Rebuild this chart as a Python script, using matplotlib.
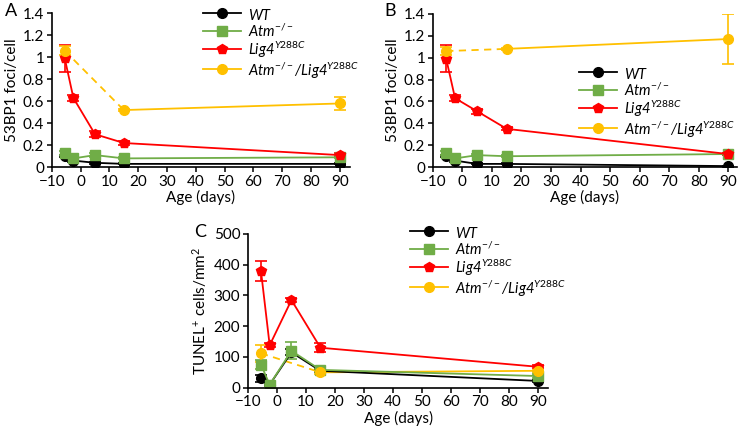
import matplotlib
matplotlib.use("Agg")
import matplotlib.pyplot as plt
from matplotlib.lines import Line2D
import numpy as np

plt.rcParams['font.family'] = ['Lato', 'DejaVu Sans']
plt.rcParams['mathtext.fontset'] = 'custom'
plt.rcParams['mathtext.rm'] = 'Lato'
plt.rcParams['mathtext.it'] = 'Lato:italic'
plt.rcParams['font.size'] = 11

age = [-5.5, -2.5, 5, 15, 90]
age_dko = [-5.5, 15, 90]

labels = ['WT', r'Atm$^{-/-}$', r'Lig4$^{Y288C}$', r'Atm$^{-/-}$/Lig4$^{Y288C}$']
colors = ['black', '#70ad47', '#ff0000', '#ffc000']
markers = ['o', 's', 'p', 'o']

# panel A: 53BP1 foci/cell
a_wt = [0.10, 0.06, 0.04, 0.03, 0.03]
a_wt_err = [0.01, 0.01, 0.01, 0.005, 0.005]
a_atm = [0.13, 0.08, 0.11, 0.08, 0.09]
a_atm_err = [0.02, 0.015, 0.02, 0.01, 0.01]
a_lig = [0.99, 0.63, 0.30, 0.22, 0.11]
a_lig_err = [0.125, 0.025, 0.025, 0.02, 0.015]
a_dko = [1.06, 0.52, 0.58]
a_dko_err = [0.04, 0.01, 0.06]

# panel B: 53BP1 foci/cell
b_wt = [0.10, 0.06, 0.03, 0.03, 0.01]
b_wt_err = [0.01, 0.01, 0.005, 0.005, 0.005]
b_atm = [0.13, 0.08, 0.11, 0.10, 0.12]
b_atm_err = [0.02, 0.015, 0.01, 0.01, 0.01]
b_lig = [0.99, 0.63, 0.51, 0.35, 0.12]
b_lig_err = [0.125, 0.025, 0.025, 0.015, 0.01]
b_dko = [1.06, 1.08, 1.17]
b_dko_err = [0.04, 0.01, 0.23]

# panel C: TUNEL+ cells/mm2
c_wt = [30, 10, 115, 55, 22]
c_wt_err = [10, 3, 10, 5, 4]
c_atm = [75, 10, 120, 58, 38]
c_atm_err = [15, 3, 28, 6, 5]
c_lig = [380, 138, 285, 130, 68]
c_lig_err = [32, 6, 6, 15, 5]
c_dko = [112, 50, 55]
c_dko_err = [28, 5, 4]

fig = plt.figure(figsize=(7.4, 4.32), dpi=100)
axA = fig.add_axes([0.070, 0.613, 0.403, 0.356])
axB = fig.add_axes([0.585, 0.613, 0.411, 0.355])
axC = fig.add_axes([0.335, 0.1025, 0.406, 0.356])


def draw(ax, wt, wte, atm, atme, lig, lige, dko, dkoe):
    handles = []
    for vals, errs, c, m in [(wt, wte, colors[0], markers[0]),
                             (atm, atme, colors[1], markers[1]),
                             (lig, lige, colors[2], markers[2])]:
        h = ax.errorbar(age, vals, yerr=errs, color=c, marker=m, ms=7,
                        lw=1.3, capsize=4, elinewidth=1.2, capthick=1.2)
        handles.append(h[0])
    ax.plot(age_dko[:2], dko[:2], color=colors[3], lw=1.3, ls=(0, (4, 3)))
    ax.plot(age_dko[1:], dko[1:], color=colors[3], lw=1.3)
    ax.errorbar(age_dko, dko, yerr=dkoe, color=colors[3], marker=markers[3],
                ms=7, ls='none', capsize=4, elinewidth=1.2, capthick=1.2)
    handles.append(Line2D([], [], color=colors[3], marker=markers[3], ms=7, lw=1.3))
    ax.spines['top'].set_visible(False)
    ax.spines['right'].set_visible(False)
    ax.spines['left'].set_linewidth(1.2)
    ax.spines['bottom'].set_linewidth(1.2)
    ax.set_xticks(np.arange(-10, 91, 10))
    ax.set_xlabel('Age (days)', labelpad=1)
    ax.tick_params(length=3.5, width=1.1, pad=2)
    return handles


legend_kw = dict(frameon=False, prop={'size': 10.5, 'style': 'italic'}, handlelength=2.6,
                 handleheight=1.25, labelspacing=0.0, handletextpad=0.5, borderpad=0,
                 borderaxespad=0, loc='upper left', bbox_transform=fig.transFigure)

hA = draw(axA, a_wt, a_wt_err, a_atm, a_atm_err, a_lig, a_lig_err, a_dko, a_dko_err)
axA.set_xlim(-10, 93.5)
axA.set_ylim(0, 1.4)
axA.set_yticks([0, 0.2, 0.4, 0.6, 0.8, 1, 1.2, 1.4], ['0', '0.2', '0.4', '0.6', '0.8', '1', '1.2', '1.4'])
axA.set_ylabel('53BP1 foci/cell', labelpad=3)
axA.legend(hA, labels, bbox_to_anchor=(203 / 740, 1 - 7 / 432), **legend_kw)

hB = draw(axB, b_wt, b_wt_err, b_atm, b_atm_err, b_lig, b_lig_err, b_dko, b_dko_err)
axB.set_xlim(-10, 93)
axB.set_ylim(0, 1.4)
axB.set_yticks([0, 0.2, 0.4, 0.6, 0.8, 1, 1.2, 1.4], ['0', '0.2', '0.4', '0.6', '0.8', '1', '1.2', '1.4'])
axB.set_ylabel('53BP1 foci/cell', labelpad=3)
axB.legend(hB, labels, bbox_to_anchor=(579 / 740, 1 - 66 / 432), **legend_kw)

hC = draw(axC, c_wt, c_wt_err, c_atm, c_atm_err, c_lig, c_lig_err, c_dko, c_dko_err)
axC.set_xlim(-10, 93.5)
axC.set_ylim(0, 500)
axC.set_yticks(np.arange(0, 501, 100))
axC.set_ylabel(r'TUNEL$^{+}$ cells/mm$^{2}$', labelpad=3)
axC.legend(hC, labels, bbox_to_anchor=(410 / 740, 1 - 225 / 432), **legend_kw)

fig.text(0.006, 0.962, 'A', fontsize=13)
fig.text(0.52, 0.962, 'B', fontsize=13)
fig.text(0.262, 0.452, 'C', fontsize=13)

fig.savefig('out.png', dpi=100)
